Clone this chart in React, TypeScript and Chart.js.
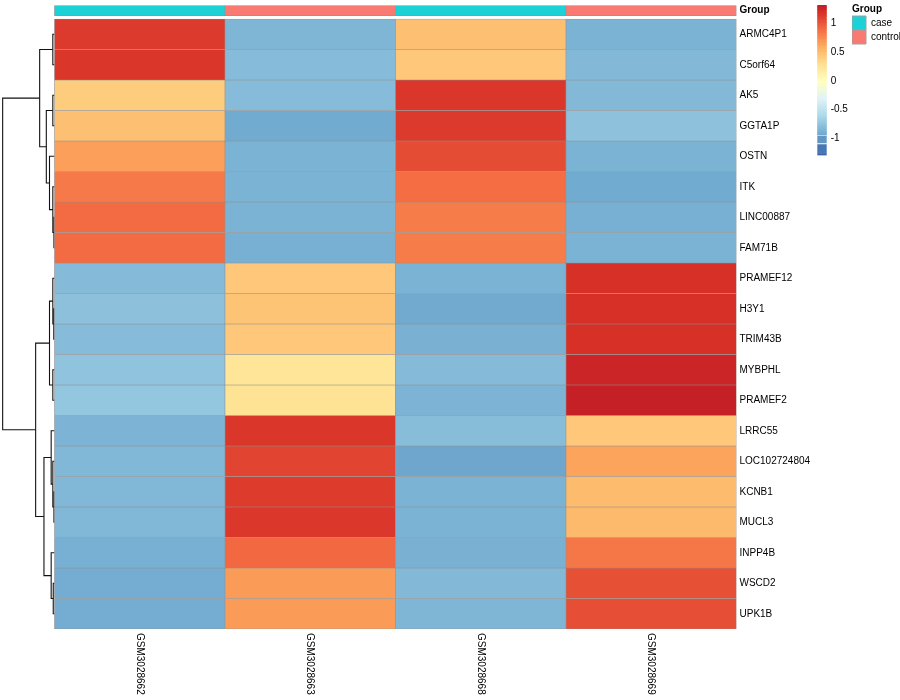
import React, { useEffect, useRef } from 'react';
import { Chart, registerables } from 'chart.js';

Chart.register(...registerables);

const FONT = '"Liberation Sans", Arial, Helvetica, sans-serif';

// ---------- data ----------
const samples = ['GSM3028662', 'GSM3028663', 'GSM3028668', 'GSM3028669'];
const sampleGroups = ['case', 'control', 'case', 'control'];
const groupNames = ['case', 'control'];
const groupColors = ['#1DD2D7', '#F97A73'];

const genes = [
  'ARMC4P1', 'C5orf64', 'AK5', 'GGTA1P', 'OSTN', 'ITK', 'LINC00887', 'FAM71B',
  'PRAMEF12', 'H3Y1', 'TRIM43B', 'MYBPHL', 'PRAMEF2', 'LRRC55', 'LOC102724804',
  'KCNB1', 'MUCL3', 'INPP4B', 'WSCD2', 'UPK1B',
];

// row-scaled expression (z-scores), one array per sample, in gene order
const zGSM3028662 = [1.15, 1.17, 0.42, 0.5, 0.67, 0.84, 0.91, 0.91, -0.81, -0.77, -0.8, -0.75, -0.73, -0.85, -0.83, -0.83, -0.83, -0.88, -0.9, -0.9];
const zGSM3028663 = [-0.84, -0.8, -0.8, -0.91, -0.86, -0.86, -0.86, -0.88, 0.45, 0.47, 0.45, 0.25, 0.27, 1.17, 1.1, 1.14, 1.16, 0.92, 0.69, 0.69];
const zGSM3028668 = [0.5, 0.45, 1.17, 1.15, 1.06, 0.9, 0.83, 0.83, -0.86, -0.92, -0.87, -0.81, -0.85, -0.79, -0.94, -0.86, -0.86, -0.87, -0.82, -0.84];
const zGSM3028669 = [-0.86, -0.82, -0.82, -0.76, -0.86, -0.91, -0.88, -0.86, 1.2, 1.2, 1.2, 1.27, 1.3, 0.45, 0.65, 0.52, 0.53, 0.86, 1.04, 1.05];
const sampleValues = [zGSM3028662, zGSM3028663, zGSM3028668, zGSM3028669];

// row clustering (hclust style: negative = leaf -(row+1), positive = earlier merge, 1-based)
const mergeLeft = [-7, -16, -10, -19, -1, -3, -6, -9, -12, -15, -14, -18, -5, 8, 6, 11, 5, 14, 17];
const mergeRight = [-8, -17, -11, -20, -2, -4, 1, 3, -13, 2, 10, 4, 7, 9, 13, 12, 15, 16, 18];
const mergeHeight = [0.04, 0.04, 0.05, 0.09, 0.12, 0.12, 0.12, 0.12, 0.12, 0.12, 0.24, 0.24, 0.36, 0.36, 0.59, 0.76, 1.07, 1.36, 3.74];

// colour legend
const legendTicks = [-1, -0.5, 0, 0.5, 1];
const legendGradientRange = [-0.948, 1.32];
const legendBlockLow = [-1.08, -1.27, -1.3];
const legendBlockHigh = [-0.965, -1.11, -1.28];

// ---------- styles / helpers ----------
const paletteStops = ['#313695', '#4575B4', '#74ADD1', '#ABD9E9', '#E0F3F8', '#FFFFBF', '#FEE090', '#FDAE61', '#F46D43', '#D73027', '#A50026'];
const COLOR_LIMIT = 1.5;
const CELL_BORDER = '#8e8e8e';
const DENDRO_WIDTH = 0.304; // x units used by the dendrogram root
const X_MIN = -0.3196;

function hexToRgb(h: string) {
  const n = parseInt(h.slice(1), 16);
  return [(n >> 16) & 255, (n >> 8) & 255, n & 255];
}
const stopRgb = paletteStops.map(hexToRgb);
function colorFor(v: number) {
  const t = Math.min(1, Math.max(0, (v + COLOR_LIMIT) / (2 * COLOR_LIMIT)));
  const pos = t * (stopRgb.length - 1);
  const i = Math.min(stopRgb.length - 2, Math.floor(pos));
  const f = pos - i;
  const a = stopRgb[i], b = stopRgb[i + 1];
  const c = a.map((x, k) => Math.round(x + (b[k] - x) * f));
  return `rgb(${c[0]},${c[1]},${c[2]})`;
}

function buildDendrogram() {
  const nodeY: number[] = [];
  const nodeH: number[] = [];
  const pos = (ref: number) => (ref < 0 ? -ref - 1 + 0.5 : nodeY[ref - 1]);
  const hgt = (ref: number) => (ref < 0 ? 0 : nodeH[ref - 1]);
  const maxH = Math.max(...mergeHeight);
  const toX = (h: number) => -(h / maxH) * DENDRO_WIDTH;
  const lines: { x: number; y: number }[][] = [];
  mergeLeft.forEach((l, i) => {
    const r = mergeRight[i];
    const h = mergeHeight[i];
    const yl = pos(l), yr = pos(r);
    nodeY.push((yl + yr) / 2);
    nodeH.push(h);
    lines.push([
      { x: toX(hgt(l)), y: yl },
      { x: toX(h), y: yl },
      { x: toX(h), y: yr },
      { x: toX(hgt(r)), y: yr },
    ]);
  });
  return lines;
}

const colLabelPlugin = {
  id: 'colLabels',
  afterDraw(chart: any) {
    const { ctx, chartArea } = chart;
    const x = chart.scales.x;
    ctx.save();
    ctx.font = `10px ${FONT}`;
    ctx.fillStyle = '#000';
    ctx.textAlign = 'left';
    ctx.textBaseline = 'middle';
    samples.forEach((s, j) => {
      const px = x.getPixelForValue(j + 0.5);
      ctx.save();
      ctx.translate(px, chartArea.bottom + 4);
      ctx.rotate(Math.PI / 2);
      ctx.fillText(s, 0, 0);
      ctx.restore();
    });
    ctx.restore();
  },
};

export default function App() {
  const mainRef = useRef<HTMLCanvasElement>(null);
  const barRef = useRef<HTMLCanvasElement>(null);
  const legRef = useRef<HTMLCanvasElement>(null);

  useEffect(() => {
    const charts: Chart[] = [];

    // ---------- main heatmap ----------
    const heatDatasets: any[] = genes.map((g, r) => ({
      type: 'bar',
      label: g,
      data: samples.map((_, j) => ({ x: j + 0.5, y: [r, r + 1] })),
      backgroundColor: samples.map((_, j) => colorFor(sampleValues[j][r])),
      borderColor: CELL_BORDER,
      borderWidth: 0.6,
      borderSkipped: false,
      grouped: false,
      barPercentage: 1,
      categoryPercentage: 1,
      xAxisID: 'x',
      yAxisID: 'y',
    }));
    const groupDataset: any = {
      type: 'bar',
      label: 'Group',
      data: samples.map((_, j) => ({ x: j + 0.5, y: [-0.44, -0.11] })),
      backgroundColor: sampleGroups.map((g) => groupColors[groupNames.indexOf(g)]),
      borderColor: CELL_BORDER,
      borderWidth: 0.6,
      borderSkipped: false,
      grouped: false,
      barPercentage: 1,
      categoryPercentage: 1,
      xAxisID: 'x',
      yAxisID: 'y',
    };
    const dendroDatasets: any[] = buildDendrogram().map((pts, i) => ({
      type: 'line',
      label: 'node' + i,
      data: pts,
      borderColor: '#111',
      borderWidth: 1.1,
      pointRadius: 0,
      fill: false,
      tension: 0,
      xAxisID: 'x',
      yAxisID: 'y',
    }));

    const yTickValues = [-0.275, ...genes.map((_, i) => i + 0.5)];
    const yTickLabels = ['Group', ...genes];

    charts.push(
      new Chart(mainRef.current as HTMLCanvasElement, {
        type: 'bar',
        data: { datasets: [...heatDatasets, groupDataset, ...dendroDatasets] },
        options: {
          animation: false,
          responsive: false,
          maintainAspectRatio: false,
          events: [],
          layout: { padding: { top: 5, left: 0, right: 0, bottom: 0 } },
          plugins: { legend: { display: false }, tooltip: { enabled: false } },
          scales: {
            x: {
              type: 'linear',
              offset: false,
              bounds: 'data',
              min: X_MIN,
              max: 4,
              grid: { display: false, drawTicks: false, offset: false },
              border: { display: false },
              ticks: { display: false },
              afterBuildTicks: (s: any) => {
                s.ticks = samples.map((_, j) => ({ value: j + 0.5 }));
              },
              afterFit: (s: any) => {
                s.height = 71;
                s.paddingLeft = 0;
                s.paddingRight = 0;
              },
            },
            y: {
              type: 'linear',
              position: 'right',
              reverse: true,
              min: -0.46,
              max: 20,
              grid: { display: false, drawTicks: false },
              border: { display: false },
              afterBuildTicks: (s: any) => {
                s.ticks = yTickValues.map((v) => ({ value: v }));
              },
              ticks: {
                autoSkip: false,
                padding: 3,
                color: '#000',
                callback: (_v: any, i: number) => yTickLabels[i],
                font: (ctx: any) =>
                  ctx.index === 0
                    ? { family: FONT, size: 10, weight: 'bold' }
                    : { family: FONT, size: 10 },
              },
              afterFit: (s: any) => {
                s.width = 163.5;
                s.paddingTop = 0;
                s.paddingBottom = 0;
              },
            },
          },
        } as any,
        plugins: [colLabelPlugin],
      } as any)
    );

    // ---------- colour bar ----------
    const slices: { lo: number; hi: number; c: string }[] = [];
    const nSlices = 90;
    const [gLo, gHi] = legendGradientRange;
    for (let k = 0; k < nSlices; k++) {
      const lo = gLo + ((gHi - gLo) * k) / nSlices;
      const hi = gLo + ((gHi - gLo) * (k + 1)) / nSlices;
      slices.push({ lo: k === 0 ? lo : lo - 0.004, hi, c: colorFor((lo + hi) / 2) });
    }
    legendBlockLow.forEach((lo, i) => {
      const hi = legendBlockHigh[i];
      slices.push({ lo, hi, c: colorFor((lo + hi) / 2) });
    });

    charts.push(
      new Chart(barRef.current as HTMLCanvasElement, {
        type: 'bar',
        data: {
          labels: ['scale'],
          datasets: [
            {
              data: slices.map((s) => ({ x: 'scale', y: [s.lo, s.hi] })),
              backgroundColor: slices.map((s) => s.c),
              borderWidth: 0,
              grouped: false,
              barPercentage: 1,
              categoryPercentage: 1,
            } as any,
          ],
        },
        options: {
          animation: false,
          responsive: false,
          maintainAspectRatio: false,
          events: [],
          layout: { padding: { top: 5, left: 7.3, right: 0, bottom: 4.5 } },
          plugins: { legend: { display: false }, tooltip: { enabled: false } },
          scales: {
            x: { type: 'category', display: false },
            y: {
              type: 'linear',
              position: 'right',
              min: -1.3,
              max: 1.32,
              grid: { display: false, drawTicks: false },
              border: { display: false },
              afterBuildTicks: (s: any) => {
                s.ticks = legendTicks.map((v) => ({ value: v }));
              },
              ticks: {
                padding: 4,
                color: '#000',
                font: { family: FONT, size: 10 },
                callback: (v: any) => String(v),
              },
              afterFit: (s: any) => {
                s.width = 23.3;
                s.paddingTop = 0;
                s.paddingBottom = 0;
              },
            },
          },
        } as any,
      } as any)
    );

    // ---------- group legend ----------
    charts.push(
      new Chart(legRef.current as HTMLCanvasElement, {
        type: 'bar',
        data: { labels: [], datasets: [] },
        options: {
          animation: false,
          responsive: false,
          maintainAspectRatio: false,
          events: [],
          layout: { padding: 0 },
          scales: { x: { display: false }, y: { display: false } },
          plugins: {
            tooltip: { enabled: false },
            legend: {
              display: true,
              position: 'left',
              align: 'start',
              title: {
                display: true,
                text: 'Group',
                position: 'start',
                color: '#000',
                font: { family: FONT, size: 10, weight: 'bold' },
                padding: { top: 4, bottom: 0 },
              },
              labels: {
                boxWidth: 14,
                boxHeight: 14,
                padding: 0,
                color: '#000',
                font: { family: FONT, size: 10 },
                generateLabels: () =>
                  groupNames.map((g, i) => ({
                    text: g,
                    fillStyle: groupColors[i],
                    strokeStyle: '#a0a0a0',
                    lineWidth: 1,
                    hidden: false,
                    datasetIndex: i,
                    fontColor: '#000',
                  })),
              },
            },
          },
        } as any,
      } as any)
    );

    return () => charts.forEach((c) => c.destroy());
  }, []);

  return (
    <div style={{ position: 'fixed', left: 0, top: 0, width: 900, height: 700, background: '#fff', overflow: 'hidden' }}>
      <canvas ref={mainRef} width={900} height={700} style={{ position: 'absolute', left: 0, top: 0, width: 900, height: 700 }} />
      <canvas ref={barRef} width={40} height={160} style={{ position: 'absolute', left: 810, top: 0, width: 40, height: 160 }} />
      <canvas ref={legRef} width={120} height={50} style={{ position: 'absolute', left: 852, top: 0, width: 120, height: 50 }} />
    </div>
  );
}
